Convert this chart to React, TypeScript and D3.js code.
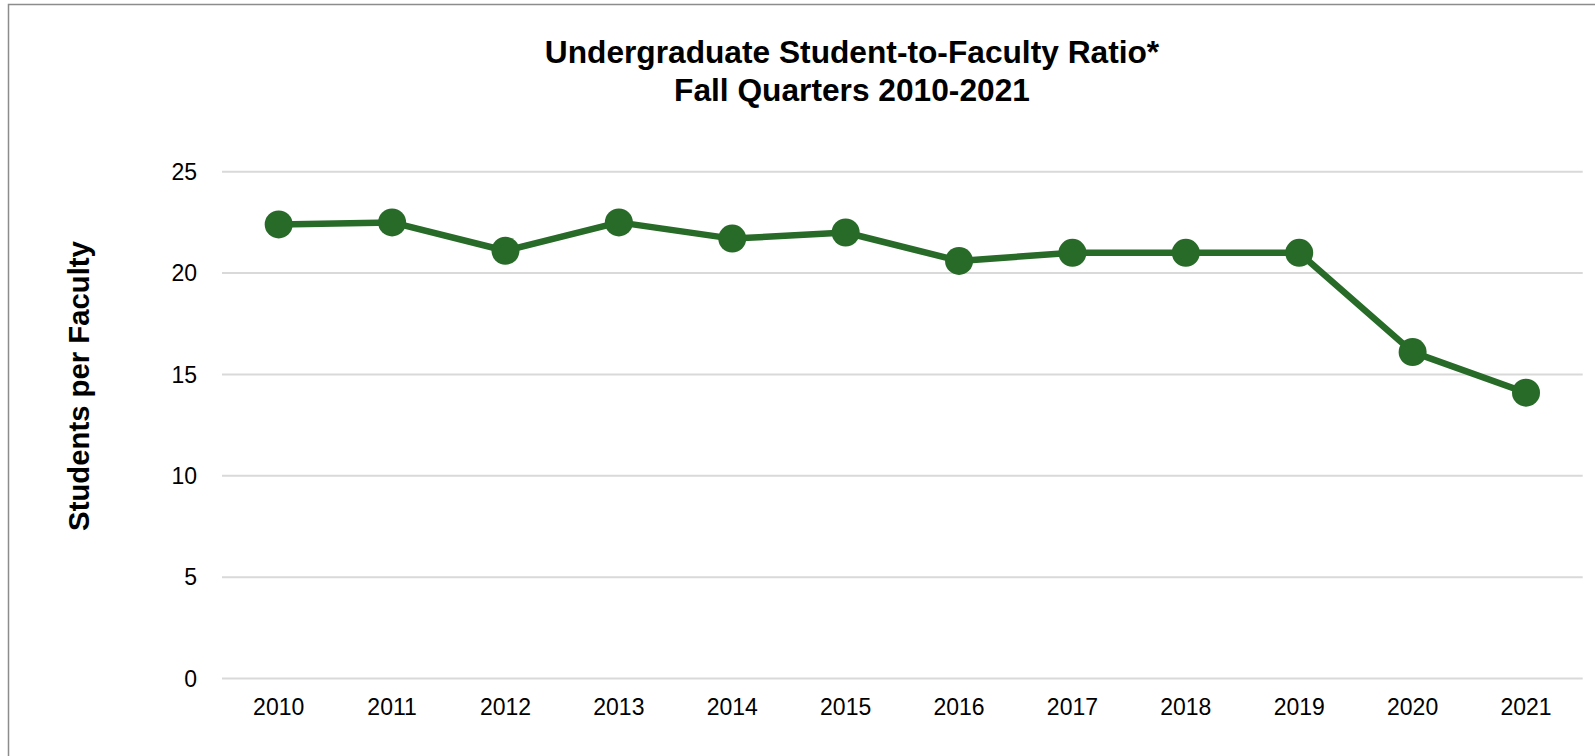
import React from "react";
import * as d3 from "d3";

const years = ["2010","2011","2012","2013","2014","2015","2016","2017","2018","2019","2020","2021"];
const ratios = [22.4, 22.5, 21.1, 22.5, 21.7, 22.0, 20.6, 21.0, 21.0, 21.0, 16.1, 14.1];
const yTicks = [0, 5, 10, 15, 20, 25];
const titleLines = ["Undergraduate Student-to-Faculty Ratio*", "Fall Quarters 2010-2021"];
const yAxisTitle = "Students per Faculty";

const W = 1595;
const H = 756;
const plot = { left: 222, right: 1582.7, top: 171.7, bottom: 678.5 };
const green = "#286a28";
const font = "'Liberation Sans', Arial, sans-serif";

export default function App() {
  const x = d3.scaleBand<string>().domain(years).range([plot.left, plot.right]).paddingInner(0).paddingOuter(0);
  const y = d3.scaleLinear().domain([0, 25]).range([plot.bottom, plot.top]);
  const cx = (yr: string) => (x(yr) as number) + x.bandwidth() / 2;
  const line = d3.line<number>().x((_, i) => cx(years[i])).y((v) => y(v));

  return (
    <svg width={W} height={H} style={{ position: "absolute", left: 0, top: 0, background: "#fff" }} fontFamily={font}>
      <rect x={0} y={0} width={W} height={H} fill="#fff" />
      <rect x={8.5} y={4.5} width={1620} height={800} fill="none" stroke="#8c8c8c" strokeWidth={1.5} />
      <text x={852} textAnchor="middle" fontWeight="bold" fontSize={31.7} fill="#000">
        <tspan x={852} y={62.5}>{titleLines[0]}</tspan>
        <tspan x={852} y={100.5}>{titleLines[1]}</tspan>
      </text>
      {yTicks.map((t) => (
        <g key={t}>
          <line x1={plot.left} x2={plot.right} y1={y(t)} y2={y(t)} stroke="#d9d9d9" strokeWidth={2} />
          <text x={197} y={y(t)} dy="0.36em" textAnchor="end" fontSize={23} fill="#000">{t}</text>
        </g>
      ))}
      {years.map((yr) => (
        <text key={yr} x={cx(yr)} y={715} textAnchor="middle" fontSize={23} fill="#000">{yr}</text>
      ))}
      <text transform={`translate(88.5,386) rotate(-90)`} textAnchor="middle" fontWeight="bold" fontSize={29.3} fill="#000">{yAxisTitle}</text>
      <path d={line(ratios) || ""} fill="none" stroke={green} strokeWidth={6.5} strokeLinejoin="round" />
      {ratios.map((v, i) => (
        <circle key={years[i]} cx={cx(years[i])} cy={y(v)} r={14} fill={green} />
      ))}
    </svg>
  );
}
